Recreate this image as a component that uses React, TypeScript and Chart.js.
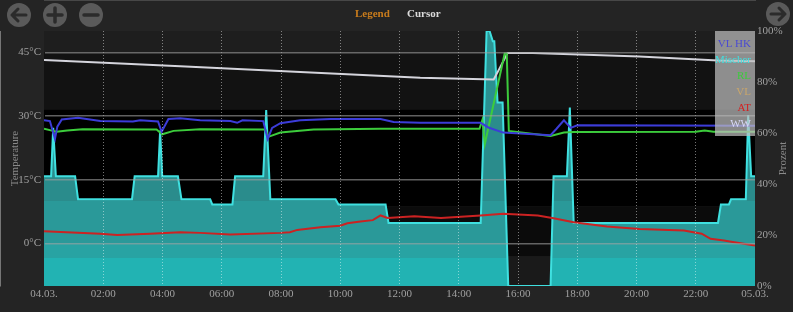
import React, { useEffect, useRef } from "react";
import { Chart, registerables } from "chart.js";

Chart.register(...registerables);

// ---- axis ticks ----
const hourTicks = [0, 2, 4, 6, 8, 10, 12, 14, 16, 18, 20, 22, 24];
const tempTicks = [0, 15, 30, 45];
const percentTicks = [0, 20, 40, 60, 80, 100];
const hourLabel = (h: number) =>
  h === 0 ? "04.03." : h === 24 ? "05.03." : `${String(h).padStart(2, "0")}:00`;

// ---- series (x = hours since 04.03. 00:00) ----
const mischerHours = [0, 0.24, 0.31, 0.4, 1.05, 1.15, 2.97, 3.06, 3.85, 3.92, 3.99, 4.52, 4.64, 5.61, 5.68, 6.36, 6.45, 7.4, 7.5, 7.64, 9.84, 9.94, 11.53, 11.63, 14.74, 14.94, 15.04, 15.15, 15.2, 15.31, 15.48, 15.67, 17.1, 17.2, 17.65, 17.75, 17.88, 22.75, 22.85, 23.12, 23.19, 23.69, 23.77, 23.87, 24];
const mischerValues = [43, 43, 62, 43, 43, 34, 34, 43, 43, 61, 43, 43, 34, 34, 32, 32, 43, 43, 69, 34, 34, 32, 32, 24.7, 24.7, 100, 100, 96, 96, 72, 72, 0, 0, 43, 43, 70, 24.7, 24.7, 32, 32, 34, 34, 67, 43, 43];

const vlhkHours = [0, 0.2, 0.37, 0.45, 0.6, 1.15, 1.9, 3.0, 3.25, 3.85, 3.97, 4.2, 4.6, 5.27, 6.29, 6.52, 6.7, 7.4, 7.55, 7.7, 7.98, 8.65, 9.67, 11.36, 11.8, 12.7, 14.74, 15.0, 15.5, 17.1, 17.3, 17.55, 17.78, 18.0, 24];
const vlhkValues = [29.0, 28.8, 24.6, 27.5, 29.2, 29.6, 28.8, 28.7, 29.0, 28.7, 26.3, 29.3, 29.45, 29.0, 28.8, 28.4, 29.0, 28.8, 24.6, 27.2, 28.3, 29.0, 29.3, 29.3, 28.6, 28.4, 28.4, 27.3, 26.1, 25.5, 27.0, 29.0, 27.2, 27.8, 27.7];

const rlHours = [0, 0.3, 0.43, 0.78, 1.3, 3.8, 3.99, 4.37, 5.27, 7.47, 7.57, 7.98, 9.1, 11.36, 14.7, 14.8, 14.88, 15.55, 15.62, 15.69, 17.1, 17.55, 17.88, 22.0, 22.3, 22.6, 24];
const rlValues = [27.0, 26.5, 26.3, 26.6, 26.9, 26.8, 25.7, 26.5, 26.9, 26.8, 25.1, 26.1, 26.8, 27.0, 27.0, 29.1, 23.4, 44.7, 44.7, 26.5, 25.3, 26.1, 26.25, 26.3, 26.6, 26.3, 26.3];

const vlHours: number[] = [];
const vlValues: number[] = [];

const atHours = [0, 1.9, 2.47, 3.58, 4.6, 5.27, 6.29, 7.98, 8.3, 8.55, 8.9, 9.33, 10.0, 10.24, 10.68, 11.1, 11.36, 11.6, 12.5, 13.4, 14.74, 15.5, 16.67, 17.2, 17.88, 19.0, 20.1, 21.6, 22.2, 22.5, 22.95, 23.3, 24];
const atValues = [2.9, 2.3, 2.0, 2.3, 2.65, 2.5, 2.1, 2.5, 2.65, 3.2, 3.45, 3.8, 4.2, 4.75, 5.2, 5.5, 6.6, 6.0, 6.4, 6.0, 6.6, 7.0, 6.6, 5.95, 5.0, 4.0, 3.4, 3.05, 2.3, 1.1, 0.7, 0.3, -0.5];

const wwHours = [0, 4.6, 12.7, 15.18, 15.4, 15.65, 16.5, 20.1, 22.75, 24];
const wwValues = [43.2, 41.7, 39.0, 38.6, 41.5, 44.85, 44.8, 44.0, 43.05, 42.9];

const legendNames = ["VL HK", "Mischer", "RL", "VL", "AT", "WW"];
const lineColors = ["#3c3cd8", "#3fe0e0", "#3ccc3c", "#c8a06e", "#cc2222", "#d4d4dc"];
const legendTextColors = ["#4b4bd2", "#40e0e0", "#3ccc3c", "#c9a66b", "#d42020", "#d8d8f8"];

// background bands (temperature units) and fill shading bands
const bgBandEdges = [50, 45, 31.5, 8.7, -3, -10];
const bgBandColors = ["#1e1e1e", "#121212", "#000000", "#0b0b0b", "#1a1a1a"];
const fillBandEdges = [50, 45, 31.5, 10, 0, -3.5, -10];
const fillBandColors = ["#2c9696", "#2a9090", "#2a8c8c", "#2a9999", "#28a3a3", "#22b3b3"];

const FONT = "'Liberation Serif', 'Times New Roman', serif";

const pts = (xs: number[], ys: number[]) => xs.map((x, i) => ({ x, y: ys[i] }));

const bandPlugin = {
  id: "bands",
  beforeDraw(chart: any) {
    const { ctx, chartArea: a, scales } = chart;
    const y = scales.y;
    ctx.save();
    for (let i = 0; i < bgBandColors.length; i++) {
      const t = y.getPixelForValue(bgBandEdges[i]);
      const b = y.getPixelForValue(bgBandEdges[i + 1]);
      ctx.fillStyle = bgBandColors[i];
      ctx.fillRect(a.left, t, a.right - a.left, b - t);
    }
    ctx.restore();
  },
  afterDraw(chart: any) {
    const { ctx, chartArea: a } = chart;
    ctx.save();
    // legend box
    ctx.fillStyle = "rgba(190,190,190,0.72)";
    ctx.fillRect(a.right - 40, a.top, 40, 105);
    ctx.font = `11px ${FONT}`;
    ctx.textAlign = "right";
    ctx.textBaseline = "middle";
    legendNames.forEach((n, i) => {
      ctx.fillStyle = legendTextColors[i];
      ctx.fillText(n, a.right - 4, a.top + 13 + i * 16);
    });
    // axis titles
    ctx.fillStyle = "#8a8a8a";
    ctx.textAlign = "center";
    const cy = (a.top + a.bottom) / 2;
    ctx.translate(15, cy);
    ctx.rotate(-Math.PI / 2);
    ctx.fillText("Temperature", 0, 0);
    ctx.setTransform(1, 0, 0, 1, 0, 0);
    ctx.translate(783, cy);
    ctx.rotate(-Math.PI / 2);
    ctx.fillText("Prozent", 0, 0);
    ctx.restore();
  },
};

export default function App() {
  const ref = useRef<HTMLCanvasElement | null>(null);

  useEffect(() => {
    if (!ref.current) return;
    const fillColor = (c: any) => {
      const chart = c.chart;
      const area = chart.chartArea;
      const y = chart.scales?.y;
      if (!area || !y) return "rgba(42,150,150,1)";
      const top = area.top;
      const bottom = area.bottom;
      const g = chart.ctx.createLinearGradient(0, top, 0, bottom);
      for (let i = 0; i < fillBandColors.length; i++) {
        const p1 = Math.min(1, Math.max(0, (y.getPixelForValue(fillBandEdges[i]) - top) / (bottom - top)));
        const p2 = Math.min(1, Math.max(0, (y.getPixelForValue(fillBandEdges[i + 1]) - top) / (bottom - top)));
        g.addColorStop(p1, fillBandColors[i]);
        g.addColorStop(Math.max(p1, p2 - 0.0001), fillBandColors[i]);
      }
      return g;
    };

    const chart = new Chart(ref.current, {
      type: "line",
      data: {
        datasets: [
          { label: legendNames[0], data: pts(vlhkHours, vlhkValues), borderColor: lineColors[0], yAxisID: "y", order: 1 },
          { label: legendNames[1], data: pts(mischerHours, mischerValues), borderColor: lineColors[1], backgroundColor: fillColor, fill: "origin", yAxisID: "y1", order: 10 },
          { label: legendNames[2], data: pts(rlHours, rlValues), borderColor: lineColors[2], yAxisID: "y", order: 2 },
          { label: legendNames[3], data: pts(vlHours, vlValues), borderColor: lineColors[3], yAxisID: "y", order: 3 },
          { label: legendNames[4], data: pts(atHours, atValues), borderColor: lineColors[4], yAxisID: "y", order: 4 },
          { label: legendNames[5], data: pts(wwHours, wwValues), borderColor: lineColors[5], yAxisID: "y", order: 5 },
        ] as any,
      },
      options: {
        animation: false,
        responsive: false,
        maintainAspectRatio: false,
        devicePixelRatio: 1,
        parsing: false as any,
        layout: { padding: { top: 31, left: 0, right: 0, bottom: 0 } },
        plugins: { legend: { display: false }, tooltip: { enabled: false } },
        elements: {
          point: { radius: 0 },
          line: { tension: 0, borderWidth: 2 },
        },
        scales: {
          x: {
            type: "linear",
            min: 0,
            max: 24,
            afterBuildTicks: (s: any) => {
              s.ticks = hourTicks.map((v) => ({ value: v }));
            },
            afterFit: (s: any) => {
              s.height = 26;
            },
            ticks: {
              callback: (v: any) => hourLabel(Number(v)),
              color: "#a0a0a0",
              font: { family: FONT, size: 11 },
              padding: 2,
              maxRotation: 0,
              autoSkip: false,
            },
            grid: {
              z: 1,
              drawTicks: false,
              lineWidth: 1,
              color: (c: any) =>
                c.tick && (c.tick.value === 0 || c.tick.value === 24) ? "rgba(0,0,0,0)" : "rgba(255,255,255,0.45)",
            },
            border: { display: true, color: "#6a6a6a", width: 1, dash: [1, 2] },
          },
          y: {
            type: "linear",
            position: "left",
            min: -10,
            max: 50,
            afterBuildTicks: (s: any) => {
              s.ticks = tempTicks.map((v) => ({ value: v }));
            },
            afterFit: (s: any) => {
              s.width = 44;
            },
            ticks: {
              callback: (v: any) => `${v}°C`,
              color: "#a0a0a0",
              font: { family: FONT, size: 11 },
              padding: 3,
            },
            grid: { z: 1, drawTicks: false, lineWidth: 1.5, color: "rgba(160,160,160,0.6)" },
            border: { display: true, color: "#c8c8c8", width: 1 },
          },
          y1: {
            type: "linear",
            position: "right",
            min: 0,
            max: 100,
            afterBuildTicks: (s: any) => {
              s.ticks = percentTicks.map((v) => ({ value: v }));
            },
            afterFit: (s: any) => {
              s.width = 38;
            },
            ticks: {
              callback: (v: any) => `${v}%`,
              color: "#a0a0a0",
              font: { family: FONT, size: 11 },
              padding: 2,
            },
            grid: { display: false, drawTicks: false },
            border: { display: false },
          },
        },
      } as any,
      plugins: [bandPlugin],
    });
    return () => chart.destroy();
  }, []);

  const iconFill = "#5a5a5a";
  const glyph = "#2b2b2b";
  return (
    <div
      style={{
        position: "fixed",
        left: 0,
        top: 0,
        width: 793,
        height: 312,
        background: "#242424",
        overflow: "hidden",
      }}
    >
      <canvas ref={ref} width={793} height={312} style={{ position: "absolute", left: 0, top: 0, width: 793, height: 312 }} />
      <svg width={793} height={30} style={{ position: "absolute", left: 0, top: 0 }}>
        <circle cx={19} cy={15} r={12} fill={iconFill} />
        <path d="M26 15 H12 M18 9 L12 15 L18 21" stroke={glyph} strokeWidth={3} fill="none" strokeLinecap="round" strokeLinejoin="round" />
        <circle cx={55} cy={15} r={12} fill={iconFill} />
        <path d="M55 8 V22 M48 15 H62" stroke={glyph} strokeWidth={3.5} fill="none" strokeLinecap="round" />
        <circle cx={91} cy={15} r={12} fill={iconFill} />
        <path d="M84 15 H98" stroke={glyph} strokeWidth={3.5} fill="none" strokeLinecap="round" />
        <circle cx={778} cy={14} r={12} fill={iconFill} />
        <path d="M771 14 H785 M779 8 L785 14 L779 20" stroke={glyph} strokeWidth={3} fill="none" strokeLinecap="round" strokeLinejoin="round" />
      </svg>
      <div style={{ position: "absolute", left: 355, top: 7, font: `bold 11px ${FONT}`, color: "#c97c1c" }}>Legend</div>
      <div style={{ position: "absolute", left: 407, top: 7, font: `bold 11px ${FONT}`, color: "#dcdcdc" }}>Cursor</div>
    </div>
  );
}
